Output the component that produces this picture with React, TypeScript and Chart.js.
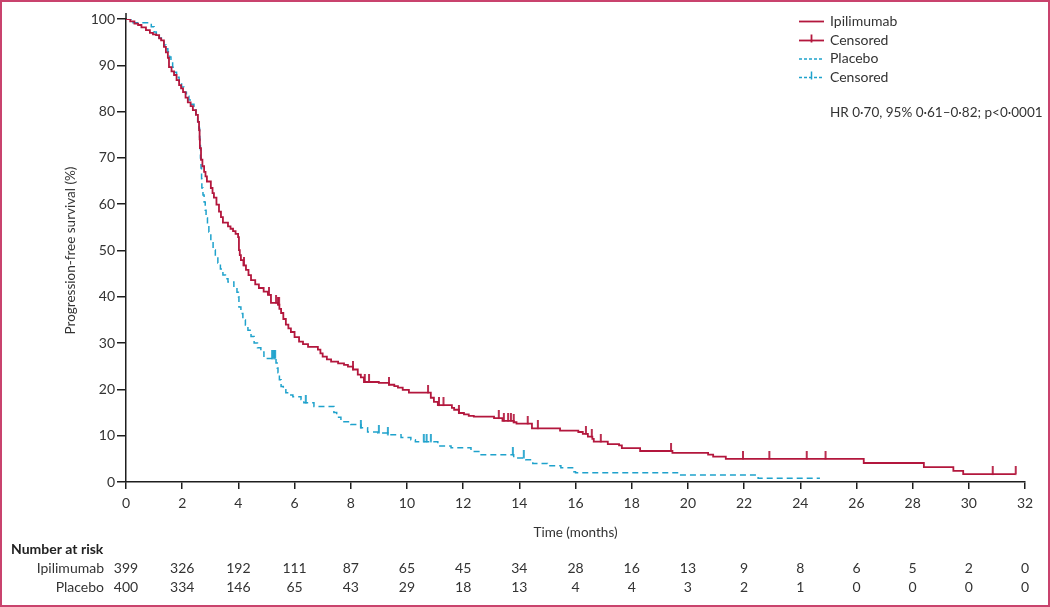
import React, { useEffect, useRef } from "react";
import { Chart, registerables } from "chart.js";

Chart.register(...registerables);

const FONT = "Lato, 'Noto Sans', sans-serif";
const RED = "#b3173d";
const BLUE = "#1fa2cc";
const TEXT = "#333333";
const AXIS = "#1e1e1e";
const FRAME = "#c9436d";

const seriesNames = ["Ipilimumab", "Placebo"];
const censorLabel = "Censored";
const yTitle = "Progression-free survival (%)";
const xTitle = "Time (months)";
const riskTitle = "Number at risk";
const hrText = "HR 0·70, 95% 0·61–0·82; p<0·0001";

const xTickValues = [0, 2, 4, 6, 8, 10, 12, 14, 16, 18, 20, 22, 24, 26, 28, 30, 32];
const riskIpilimumab = [399, 326, 192, 111, 87, 65, 45, 34, 28, 16, 13, 9, 8, 6, 5, 2, 0];
const riskPlacebo = [400, 334, 146, 65, 43, 29, 18, 13, 4, 4, 3, 2, 1, 0, 0, 0, 0];

// Ipilimumab KM steps (time in months, survival % after the step)
const ipiTime = [
  0, 0.15, 0.3, 0.43, 0.55, 0.71, 0.85, 0.96, 1.07, 1.18, 1.25, 1.35, 1.42, 1.49, 1.53, 1.62, 1.71,
  1.8, 1.89, 1.96, 2.03, 2.12, 2.2, 2.3, 2.38, 2.49, 2.56, 2.6, 2.62, 2.63, 2.67, 2.72, 2.78, 2.83,
  2.88, 3.02, 3.08, 3.13, 3.22, 3.31, 3.38, 3.45, 3.63, 3.72, 3.81, 3.9, 3.99, 4.02, 4.05, 4.09,
  4.18, 4.27, 4.36, 4.45, 4.6, 4.73, 4.9, 5.05, 5.16, 5.41, 5.46, 5.52, 5.6, 5.69, 5.78, 5.87, 6.0,
  6.16, 6.3, 6.48, 6.83, 6.92, 7.0, 7.15, 7.3, 7.55, 7.76, 7.9, 8.08, 8.25, 8.36, 8.47, 9.0, 9.36,
  9.55, 9.68, 9.85, 10.07, 10.85, 10.96, 11.1, 11.6, 11.68, 11.85, 12.03, 12.2, 12.38, 13.1, 13.4,
  13.8, 13.9, 14.45, 15.45, 16.1, 16.26, 16.44, 16.6, 16.65, 17.15, 17.55, 17.65, 18.3, 19.45,
  20.72, 20.9, 21.35, 26.26, 28.4, 29.45, 29.8, 31.67,
];
const ipiSurv = [
  100, 99.5, 99, 98.7, 98.2, 97.6, 97.0, 96.7, 96.5, 95.8, 95.4, 94, 92.8, 91.6, 89.6, 88.7, 87.9,
  86.8, 85.7, 85, 84.2, 83, 82, 81.2, 80.3, 79.3, 77.8, 76, 74, 72.1, 69.6, 68.2, 67, 66,
  64.9, 63.5, 62.4, 61.4, 59.9, 58.4, 57.2, 56, 55.2, 54.7, 54.2, 53.6, 52.9, 50.1, 49, 47.9,
  46.8, 45.8, 44.7, 43.6, 42.7, 41.9, 41.1, 40.4, 38.7, 38.3, 37.4, 36.5, 35.2, 34, 33.2, 32.4, 31.3,
  30.3, 29.8, 29.2, 28.6, 27.8, 27.1, 26.5, 26, 25.6, 25.3, 24.9, 24.3, 23.2, 22.6, 21.6, 21.4, 21.0,
  20.7, 20.4, 19.9, 19.3, 18.2, 17.3, 16.6, 16.0, 15.6, 14.9, 14.6, 14.3, 14.1, 13.8, 13.2,
  12.9, 12.6, 11.6, 11.1, 10.8, 10.4, 9.8, 9.3, 8.7, 8.2, 7.9, 7.3, 6.7, 6.3,
  5.9, 5.5, 5.0, 4.1, 3.2, 2.4, 1.7, 1.7,
];
const ipiCensorTime = [
  4.2, 5.09, 5.34, 5.41, 5.45, 8.08, 8.5, 8.65, 9.36, 10.75, 11.14, 11.3, 11.85, 13.27, 13.45, 13.6,
  13.7, 13.8, 14.3, 14.66, 16.37, 16.58, 16.9, 19.4, 21.96, 22.9, 24.23, 24.9, 30.85, 31.67,
];

// Placebo KM steps
const pboTime = [
  0, 0.25, 0.9, 1.0, 1.08, 1.17, 1.26, 1.35, 1.42, 1.49, 1.55, 1.6, 1.66, 1.71, 1.8, 1.89, 1.98,
  2.06, 2.15, 2.24, 2.33, 2.42, 2.49, 2.55, 2.6, 2.62, 2.63, 2.65, 2.67, 2.69, 2.7, 2.74, 2.78, 2.82,
  2.85, 2.9, 2.95, 3.02, 3.1, 3.18, 3.27, 3.36, 3.45, 3.54, 3.63, 3.84, 3.95, 4.0, 4.02, 4.09, 4.16,
  4.25, 4.34, 4.45, 4.56, 4.68, 4.8, 4.91, 5.34, 5.38, 5.41, 5.46, 5.52, 5.6, 5.69, 5.82, 5.94, 6.23,
  6.33, 6.69, 7.4, 7.5, 7.65, 8.0, 8.36, 8.6, 8.97, 9.32, 9.79, 10.14, 10.3, 11.1, 11.57, 12.28,
  12.56, 13.8, 14.23, 14.48, 15.0, 15.48, 15.94, 16.0, 19.66, 22.5, 24.7,
];
const pboSurv = [
  100, 99.2, 98.3, 97.2, 96.6, 95.9, 95.1, 94.4, 93.6, 92.9, 91.8, 90.7, 89.6, 88.5, 87.4, 86.4, 85.3,
  84.2, 83.3, 82.5, 81.6, 80.7, 79.3, 77.8, 76.4, 74.5, 72.7, 70, 67.8, 65.5, 63.5, 62, 60.5, 58.7,
  57, 55.5, 54, 52, 50.1, 48.7, 47.3, 46, 44.7, 43.9, 43.2, 41.9, 41, 40, 37.8, 36.4, 35,
  33.9, 32.8, 31.4, 30, 29, 28.1, 26.7, 25.7, 24.6, 23.6, 22.1, 20.6, 19.9, 19.3, 18.8, 18.4, 17.8,
  17.1, 16.3, 15, 14, 13, 12.4, 11.7, 10.8, 10.6, 10.2, 9.6, 9.1, 8.7, 7.8, 7.4, 6.6,
  5.9, 5.2, 4.8, 4.0, 3.5, 3.1, 2.2, 2.0, 1.5, 0.8, 0.8,
];
const pboCensorTime = [5.2, 5.25, 5.28, 5.31, 6.4, 8.36, 9.0, 9.32, 10.6, 10.7, 10.85, 13.77, 14.16];

function survAt(times: number[], surv: number[], t: number) {
  let s = surv[0];
  for (let i = 0; i < times.length; i++) if (times[i] <= t) s = surv[i];
  return s;
}

function tickImage(color: string) {
  const c = document.createElement("canvas");
  c.width = 4;
  c.height = 16;
  const g = c.getContext("2d")!;
  g.strokeStyle = color;
  g.lineWidth = 1.8;
  g.beginPath();
  g.moveTo(2, 0);
  g.lineTo(2, 8.5);
  g.stroke();
  return c;
}

const overlayPlugin = {
  id: "kmOverlay",
  afterDraw(chart: any) {
    const ctx = chart.ctx as CanvasRenderingContext2D;
    const x = chart.scales.x;
    const area = chart.chartArea;
    ctx.save();
    ctx.strokeStyle = AXIS;
    ctx.lineWidth = 1.5;
    ctx.beginPath();
    ctx.moveTo(area.left, area.top - 6);
    ctx.lineTo(area.left, area.top);
    ctx.stroke();

    ctx.fillStyle = TEXT;
    ctx.font = `13.5px ${FONT}`;
    ctx.save();
    ctx.translate(71, (area.top + area.bottom) / 2);
    ctx.rotate(-Math.PI / 2);
    ctx.textAlign = "center";
    ctx.textBaseline = "middle";
    ctx.fillText(yTitle, 0, 0);
    ctx.restore();
    ctx.textAlign = "center";
    ctx.textBaseline = "middle";
    ctx.fillText(xTitle, (area.left + area.right) / 2, 533);

    ctx.textAlign = "left";
    ctx.font = `bold 14px ${FONT}`;
    ctx.fillStyle = "#222";
    ctx.fillText(riskTitle, 11, 549);
    ctx.font = `14px ${FONT}`;
    ctx.fillStyle = TEXT;
    ctx.textAlign = "right";
    ctx.fillText(seriesNames[0], 104, 568);
    ctx.fillText(seriesNames[1], 104, 587);
    ctx.textAlign = "center";
    xTickValues.forEach((v, i) => {
      const px = x.getPixelForValue(v);
      ctx.fillText(String(riskIpilimumab[i]), px, 568);
      ctx.fillText(String(riskPlacebo[i]), px, 587);
    });

    const lx0 = 799, lx1 = 824, tx = 830;
    const rows = [21, 40, 58.5, 77];
    ctx.textAlign = "left";
    ctx.textBaseline = "middle";
    const labels = [seriesNames[0], censorLabel, seriesNames[1], censorLabel];
    ctx.font = `14px ${FONT}`;
    rows.forEach((ry, i) => {
      const color = i < 2 ? RED : BLUE;
      ctx.strokeStyle = color;
      ctx.lineWidth = i < 2 ? 1.8 : 1.5;
      ctx.setLineDash(i < 2 ? [] : [3, 2]);
      const ly = ry + 0.5;
      ctx.beginPath();
      ctx.moveTo(lx0, ly);
      ctx.lineTo(lx1, ly);
      ctx.stroke();
      ctx.setLineDash([]);
      if (i === 1 || i === 3) {
        ctx.beginPath();
        ctx.moveTo((lx0 + lx1) / 2, ly - 6);
        ctx.lineTo((lx0 + lx1) / 2, ly + 2);
        ctx.stroke();
      }
      ctx.fillStyle = TEXT;
      ctx.fillText(labels[i], tx, ry);
    });
    ctx.font = `13.5px ${FONT}`;
    ctx.fillText(hrText, tx, 113);
    ctx.restore();
  },
};

export default function App() {
  const ref = useRef<HTMLCanvasElement | null>(null);
  useEffect(() => {
    document.body.style.margin = "0";
    const canvas = ref.current!;
    const redTick = tickImage(RED);
    const blueTick = tickImage(BLUE);
    const chart = new Chart(canvas, {
      type: "line",
      data: {
        datasets: [
          {
            label: seriesNames[0],
            data: ipiTime.map((t, i) => ({ x: t, y: ipiSurv[i] })),
            borderColor: RED,
            borderWidth: 1.8,
            stepped: "before",
            pointRadius: 0,
            fill: false,
          },
          {
            label: censorLabel,
            data: ipiCensorTime.map((t) => ({ x: t, y: survAt(ipiTime, ipiSurv, t) })),
            showLine: false,
            pointStyle: redTick as any,
            pointRadius: 4,
            borderColor: RED,
          },
          {
            label: seriesNames[1],
            data: pboTime.map((t, i) => ({ x: t, y: pboSurv[i] })),
            borderColor: BLUE,
            borderWidth: 1.5,
            borderDash: [6, 4],
            stepped: "before",
            pointRadius: 0,
            fill: false,
          },
          {
            label: censorLabel,
            data: pboCensorTime.map((t) => ({ x: t, y: survAt(pboTime, pboSurv, t) })),
            showLine: false,
            pointStyle: blueTick as any,
            pointRadius: 4,
            borderColor: BLUE,
          },
        ],
      },
      options: {
        responsive: false,
        animation: false,
        devicePixelRatio: 1,
        events: [],
        layout: { padding: { top: 19, right: 25, bottom: 0, left: 0 } },
        plugins: { legend: { display: false }, tooltip: { enabled: false } },
        scales: {
          x: {
            type: "linear",
            min: 0,
            max: 32,
            afterFit: (s: any) => {
              s.height = 125;
            },
            afterBuildTicks: (s: any) => {
              s.ticks = xTickValues.map((v) => ({ value: v }));
            },
            ticks: { color: TEXT, font: { family: FONT, size: 14 }, padding: 6, maxRotation: 0, autoSkip: false },
            grid: { drawOnChartArea: false, drawTicks: true, tickLength: 7, color: AXIS, lineWidth: 1.5 },
            border: { display: true, color: AXIS, width: 1.5 },
          },
          y: {
            type: "linear",
            min: 0,
            max: 100,
            afterFit: (s: any) => {
              s.width = 126;
            },
            ticks: { stepSize: 10, color: TEXT, font: { family: FONT, size: 14 }, padding: 2 },
            grid: { drawOnChartArea: false, drawTicks: true, tickLength: 9, color: AXIS, lineWidth: 1.5 },
            border: { display: true, color: AXIS, width: 1.5 },
          },
        },
      },
      plugins: [overlayPlugin],
    });
    return () => chart.destroy();
  }, []);
  return (
    <div style={{ position: "fixed", left: 0, top: 0, width: 1050, height: 607, background: "#fff" }}>
      <canvas ref={ref} width={1050} height={607} style={{ position: "absolute", left: 0, top: 0 }} />
      <div
        style={{
          position: "absolute",
          left: 0,
          top: 0,
          width: 1050,
          height: 607,
          border: `2px solid ${FRAME}`,
          boxSizing: "border-box",
          pointerEvents: "none",
        }}
      />
    </div>
  );
}
